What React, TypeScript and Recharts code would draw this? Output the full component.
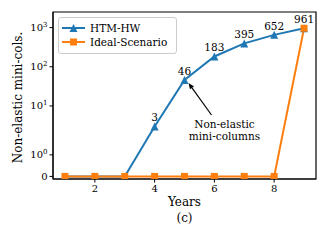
import React from 'react';
import {
  LineChart,
  Line,
  XAxis,
  YAxis,
  Legend,
  LabelList,
  ReferenceArea,
  ReferenceDot
} from 'recharts';

const years = [1, 2, 3, 4, 5, 6, 7, 8, 9];
const htmHw = [0, 0, 0, 3, 46, 183, 395, 652, 961];
const idealScenario = [0, 0, 0, 0, 0, 0, 0, 0, 961];
const xTicks = [2, 4, 6, 8];
const yTicks = [0, 1, 10, 100, 1000];

const data = years.map((year, i) => ({ year, htmHw: htmHw[i], ideal: idealScenario[i] }));

const BLUE = '#1f77b4';
const ORANGE = '#ff7f0e';
const FONT = "'DejaVu Serif', 'Liberation Serif', serif";

// symlog-like scale (linear below linthresh, log above)
const LINTHRESH = 2;
const LINSCALE = 1.1;
const tf = (v: number) => {
  const a = Math.abs(v);
  const r = a <= LINTHRESH ? (a / LINTHRESH) * LINSCALE : LINSCALE + Math.log10(a / LINTHRESH);
  return v < 0 ? -r : r;
};

function symlogScale(dom: number[] = [0, 1], rng: number[] = [0, 1]): any {
  const s: any = (v: number) => {
    const a = tf(dom[0]);
    const b = tf(dom[1]);
    return rng[0] + ((tf(v) - a) / (b - a)) * (rng[1] - rng[0]);
  };
  s.domain = (d?: number[]) => (d === undefined ? dom : ((dom = [...d]), s));
  s.range = (r?: number[]) => (r === undefined ? rng : ((rng = [...r]), s));
  s.copy = () => symlogScale(dom, rng);
  s.ticks = () => yTicks;
  return s;
}

const TriangleDot = (props: any) => {
  const { cx, cy } = props;
  if (cx == null || cy == null) return null;
  const r = 4;
  return (
    <polygon
      points={`${cx},${cy - r} ${cx - r},${cy + r} ${cx + r},${cy + r}`}
      fill={BLUE}
    />
  );
};

const SquareDot = (props: any) => {
  const { cx, cy } = props;
  if (cx == null || cy == null) return null;
  return <rect x={cx - 3.5} y={cy - 3.5} width={7} height={7} fill={ORANGE} />;
};

const YTick = (props: any) => {
  const { x, y, payload } = props;
  const v = payload.value;
  if (v === 0) {
    return (
      <text x={x} y={y} dy={3.5} textAnchor="end" fontSize={10} fontFamily={FONT} fill="#000">
        0
      </text>
    );
  }
  const e = Math.round(Math.log10(v));
  return (
    <text x={x} y={y} dy={3.5} textAnchor="end" fontSize={10} fontFamily={FONT} fill="#000">
      <tspan>10</tspan>
      <tspan dy={-4} fontSize={7}>{e}</tspan>
    </text>
  );
};

const YLabel = (props: any) => {
  const vb = props.viewBox;
  const cy = vb.y + vb.height / 2 + 2;
  return (
    <text
      x={22}
      y={cy}
      transform={`rotate(-90, 22, ${cy})`}
      textAnchor="middle"
      fontSize={12}
      fontFamily={FONT}
      fill="#000"
    >
      Non-elastic mini-cols.
    </text>
  );
};

const XLabel = (props: any) => {
  const vb = props.viewBox;
  const cx = vb.x + vb.width / 2;
  return (
    <g>
      <text x={cx} y={vb.y + 27} textAnchor="middle" fontSize={12} fontFamily={FONT} fill="#000">
        Years
      </text>
      <text x={cx} y={vb.y + 43} textAnchor="middle" fontSize={12} fontFamily={FONT} fill="#000">
        (c)
      </text>
    </g>
  );
};

const LegendBox = () => (
  <svg width={120} height={38} style={{ display: 'block' }}>
    <rect x={0.5} y={0.5} width={118} height={36} rx={2.5} fill="#fff" fillOpacity={0.8} stroke="#ccc" />
    <line x1={4} y1={11} x2={27} y2={11} stroke={BLUE} strokeWidth={2} />
    <TriangleDot cx={15.5} cy={11} />
    <text x={32} y={14.5} fontSize={10.5} fontFamily={FONT} fill="#000">HTM-HW</text>
    <line x1={4} y1={25} x2={27} y2={25} stroke={ORANGE} strokeWidth={2} />
    <SquareDot cx={15.5} cy={25} />
    <text x={32} y={28.5} fontSize={10.5} fontFamily={FONT} fill="#000">Ideal-Scenario</text>
  </svg>
);

const Annotation = (props: any) => {
  const { cx, cy } = props;
  if (cx == null || cy == null) return null;
  const tipX = cx + 4;
  const tipY = cy + 3;
  const tailX = cx + 27;
  const tailY = cy + 35;
  const ang = Math.atan2(tipY - tailY, tipX - tailX);
  const h = 6;
  const w = 2.5;
  const bx = tipX - h * Math.cos(ang);
  const by = tipY - h * Math.sin(ang);
  const p1 = `${bx + w * Math.sin(ang)},${by - w * Math.cos(ang)}`;
  const p2 = `${bx - w * Math.sin(ang)},${by + w * Math.cos(ang)}`;
  return (
    <g>
      <line x1={tailX} y1={tailY} x2={bx} y2={by} stroke="#000" strokeWidth={1.2} />
      <polygon points={`${tipX},${tipY} ${p1} ${p2}`} fill="#000" />
      <text x={cx + 40} y={cy + 48} textAnchor="middle" fontSize={10.5} fontFamily={FONT} fill="#000">
        Non-elastic
      </text>
      <text x={cx + 40} y={cy + 60} textAnchor="middle" fontSize={10.5} fontFamily={FONT} fill="#000">
        mini-columns
      </text>
    </g>
  );
};

export default function App() {
  return (
    <div style={{ position: 'absolute', left: 0, top: 0, background: '#fff', fontFamily: FONT }}>
      <LineChart width={328} height={240} data={data} margin={{ top: 12, right: 12, bottom: 41, left: 0 }}>
        <XAxis
          dataKey="year"
          type="number"
          domain={[0.6, 9.4]}
          ticks={xTicks}
          interval={0}
          allowDataOverflow
          height={20}
          tickSize={3.5}
          tickMargin={2}
          stroke="#000"
          tick={{ fontSize: 10, fontFamily: FONT, fill: '#000' }}
          label={XLabel}
        />
        <YAxis
          type="number"
          scale={symlogScale()}
          domain={[-0.12, 2500]}
          ticks={yTicks}
          interval={0}
          allowDataOverflow
          width={53}
          tickSize={3.5}
          tickMargin={2}
          stroke="#000"
          tick={YTick}
          label={YLabel}
        />
        <Legend
          layout="vertical"
          align="center"
          verticalAlign="middle"
          content={LegendBox}
          wrapperStyle={{ position: 'absolute', left: 58, top: 17, width: 120 }}
        />
        <Line
          dataKey="htmHw"
          stroke={BLUE}
          strokeWidth={2}
          dot={TriangleDot}
          activeDot={false}
          isAnimationActive={false}
        >
          <LabelList
            dataKey="htmHw"
            position="top"
            offset={5}
            fontSize={10.5}
            fontFamily={FONT}
            fill="#000"
            formatter={(v: number) => (v > 0 ? v : '')}
          />
        </Line>
        <Line
          dataKey="ideal"
          stroke={ORANGE}
          strokeWidth={2}
          dot={SquareDot}
          activeDot={false}
          isAnimationActive={false}
        />
        <ReferenceDot x={5} y={46} r={0} shape={Annotation} />
        <ReferenceArea x1={0.6} x2={9.4} y1={-0.12} y2={2500} fill="none" stroke="#000" strokeWidth={1.2} />
      </LineChart>
    </div>
  );
}
